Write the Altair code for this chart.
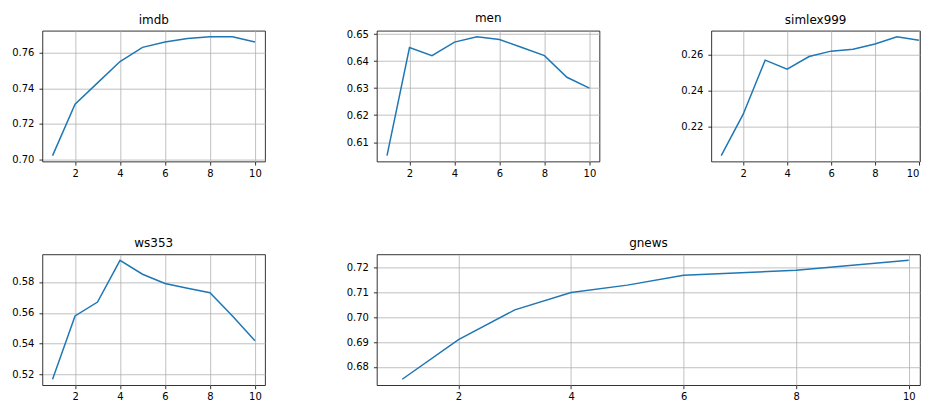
import altair as alt
import pandas as pd

# ---- data ----
k_all = [1, 2, 3, 4, 5, 6, 7, 8, 9, 10]
imdb = [0.702, 0.731, 0.743, 0.755, 0.763, 0.766, 0.768, 0.769, 0.769, 0.766]
men = [0.605, 0.645, 0.642, 0.647, 0.649, 0.648, 0.645, 0.642, 0.634, 0.630]
simlex999 = [0.204, 0.227, 0.257, 0.252, 0.259, 0.262, 0.263, 0.266, 0.270, 0.268]
ws353 = [0.517, 0.558, 0.567, 0.594, 0.585, 0.579, 0.576, 0.573, 0.558, 0.542]
k_gnews = [1, 2, 3, 4, 5, 6, 8, 10]
gnews = [0.675, 0.691, 0.703, 0.710, 0.713, 0.717, 0.719, 0.723]

x_ticks = [2, 4, 6, 8, 10]
imdb_ticks = [0.70, 0.72, 0.74, 0.76]
men_ticks = [0.61, 0.62, 0.63, 0.64, 0.65]
simlex_ticks = [0.22, 0.24, 0.26]
ws353_ticks = [0.52, 0.54, 0.56, 0.58]
gnews_ticks = [0.68, 0.69, 0.70, 0.71, 0.72]

FONT = "DejaVu Sans"
BLUE = "#1f77b4"


def margin_domain(vals, frac=0.05):
    lo, hi = min(vals), max(vals)
    m = (hi - lo) * frac
    return [lo - m, hi + m]


def panel(name, ks, vals, yticks, width, x_max=10.45, height=131):
    df = pd.DataFrame({"k": ks, "score": vals})
    return (
        alt.Chart(df)
        .mark_line(color=BLUE, strokeWidth=1.5, clip=True)
        .encode(
            x=alt.X(
                "k:Q",
                scale=alt.Scale(domain=[0.55, x_max], nice=False, zero=False),
                axis=alt.Axis(values=x_ticks, format="d", title=None, labelFlush=3),
            ),
            y=alt.Y(
                "score:Q",
                scale=alt.Scale(domain=margin_domain(vals), nice=False, zero=False),
                axis=alt.Axis(values=yticks, format=".2f", title=None, labelPadding=5),
            ),
        )
        .properties(
            width=width,
            height=height,
            title=alt.TitleParams(
                text=name, font=FONT, fontSize=12, fontWeight="normal",
                color="black", offset=4, anchor="middle",
            ),
        )
    )


p_imdb = panel("imdb", k_all, imdb, imdb_ticks, 223)
p_men = panel("men", k_all, men, men_ticks, 223)
p_simlex = panel("simlex999", k_all, simlex999, simlex_ticks, 209, x_max=10.05)
p_ws = panel("ws353", k_all, ws353, ws353_ticks, 223)
p_gnews = panel("gnews", k_gnews, gnews, gnews_ticks, 544, x_max=10.2)

top = alt.hconcat(p_imdb, p_men, p_simlex, spacing=112, bounds="flush")
bottom = alt.hconcat(p_ws, p_gnews, spacing=112, bounds="flush")

chart = (
    alt.vconcat(top, bottom, spacing=58)
    .properties(padding={"left": 2.5, "top": 2.5, "right": 0, "bottom": 0})
    .configure(background="white")
    .configure_view(stroke="black", strokeWidth=0.8)
    .configure_axis(
        labelFont=FONT,
        labelFontSize=10,
        labelColor="black",
        tickColor="black",
        tickSize=3.5,
        tickWidth=0.8,
        labelPadding=3,
        domain=False,
        grid=True,
        gridColor="#b0b0b0",
        gridWidth=0.8,
    )
)

chart.save("out.html", embed_options={"renderer": "svg", "actions": False})
